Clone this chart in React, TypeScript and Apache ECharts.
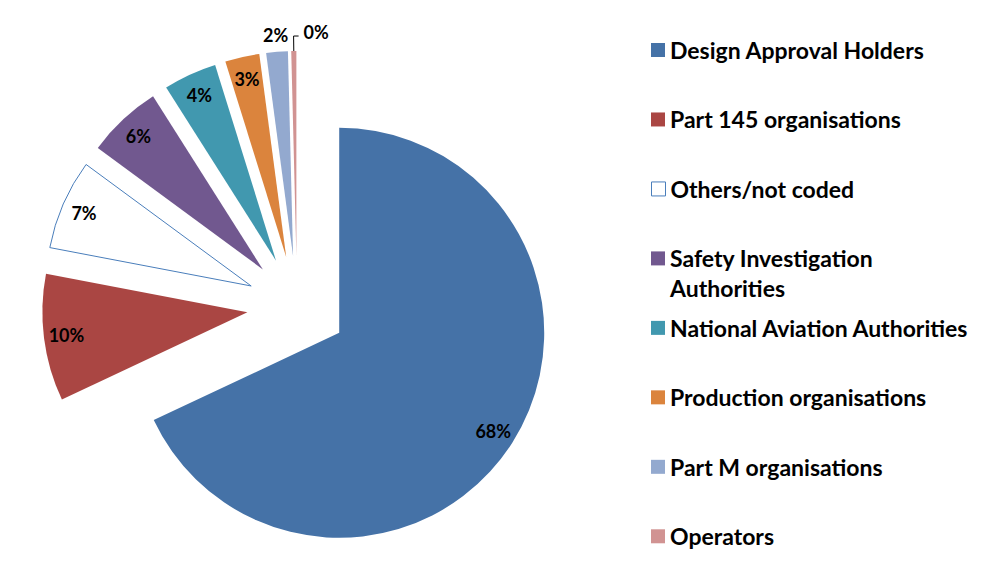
import React, { useEffect, useRef } from 'react';
import * as echarts from 'echarts';

// ---- data ----
const categories = [
  'Design Approval Holders',
  'Part 145 organisations',
  'Others/not coded',
  'Safety Investigation Authorities',
  'National Aviation Authorities',
  'Production organisations',
  'Part M organisations',
  'Operators',
];
const shares = [68.0, 10.0, 7.1, 5.9, 4.2, 2.7, 1.7, 0.4];
const sliceColors = ['#4572A7', '#AA4643', '#FFFFFF', '#71588F', '#4198AF', '#DB843D', '#93A9CF', '#D19392'];
const OUTLINE = '#4A7EBB';

const FONT = 'Lato, "Open Sans", "DejaVu Sans", sans-serif';
const CENTER: [number, number] = [297, 306];
const RADIUS = 205;
const EXPLODE = 50;
const LH = 30;
const LEGEND_FIRST = 50;
const LEGEND_STEP = 69.47;

const pctLabel = (p: any) => Math.round(p.percent) + '%';
// the two-line entry gets an empty first line so that its first text line sits level with the marker
const legendText = (n: string) => (n === 'Safety Investigation Authorities' ? '\nSafety Investigation\nAuthorities' : n);

export default function App() {
  const ref = useRef<HTMLDivElement>(null);
  useEffect(() => {
    if (!ref.current) return;
    const chart = echarts.init(ref.current, undefined, { renderer: 'svg' });

    const labelFont = { fontFamily: FONT, fontSize: 18, fontWeight: 'bold' as const, color: '#000' };

    const legends = categories.map((name, i) => {
      const c = LEGEND_FIRST + i * LEGEND_STEP;
      const lines = legendText(name).split('\n').length;
      return {
        orient: 'vertical',
        left: 651,
        top: c - (lines * LH) / 2,
        padding: 0,
        itemWidth: 14,
        itemHeight: 14,
        icon: 'rect',
        selectedMode: false,
        formatter: legendText,
        data: [
          i === 2
            ? { name, itemStyle: { color: '#FFFFFF', borderColor: OUTLINE, borderWidth: 1 } }
            : { name, itemStyle: { borderWidth: 0 } },
        ],
        textStyle: {
          fontFamily: FONT,
          fontSize: 23,
          fontWeight: 'bold',
          color: '#000',
          lineHeight: LH,
        },
      };
    });

    const option: any = {
      animation: false,
      legend: legends,
      series: [
        {
          type: 'pie',
          center: CENTER,
          radius: RADIUS,
          startAngle: 90,
          clockwise: true,
          selectedMode: 'multiple',
          selectedOffset: EXPLODE,
          avoidLabelOverlap: false,
          emphasis: { disabled: true },
          data: categories.map((name, i) => ({
            name,
            value: shares[i],
            selected: true,
            itemStyle:
              i === 2
                ? { color: sliceColors[i], borderColor: OUTLINE, borderWidth: 1 }
                : { color: sliceColors[i], borderWidth: 0 },
            label:
              i < 6
                ? { show: false }
                : {
                    show: true,
                    position: 'outside',
                    distanceToLabelLine: i === 7 ? 5 : 0,
                    formatter: pctLabel,
                    ...labelFont,
                  },
            labelLine:
              i === 7
                ? { show: true, length: 15, length2: 5, lineStyle: { color: '#000', width: 1 } }
                : { show: false, length: 17, length2: 0 },
          })),
          labelLayout: (p: any) => {
            if (p.dataIndex === 6) return { align: 'center' };
            if (p.dataIndex === 7 && p.labelLinePoints) {
              const [a, b, c] = p.labelLinePoints;
              return {
                labelLinePoints: [a, b, [2 * b[0] - c[0], c[1]]],
                align: 'left',
                dx: 2 * (b[0] - c[0]) + 10,
                dy: -4,
              };
            }
            return {};
          },
        },
        {
          type: 'pie',
          center: CENTER,
          radius: RADIUS * 1.75,
          startAngle: 90,
          clockwise: true,
          silent: true,
          selectedMode: 'multiple',
          selectedOffset: EXPLODE,
          avoidLabelOverlap: false,
          emphasis: { disabled: true },
          itemStyle: { color: 'rgba(0,0,0,0)', borderWidth: 0 },
          label: { show: true, position: 'inside', formatter: pctLabel, ...labelFont },
          labelLine: { show: false },
          data: categories.map((name, i) => ({
            name,
            value: shares[i],
            selected: true,
            label: { show: i < 6 },
          })),
        },
      ],
    };
    chart.setOption(option);
    return () => chart.dispose();
  }, []);

  return (
    <div
      ref={ref}
      style={{ position: 'fixed', left: 0, top: 0, width: 992, height: 565, background: '#fff' }}
    />
  );
}
